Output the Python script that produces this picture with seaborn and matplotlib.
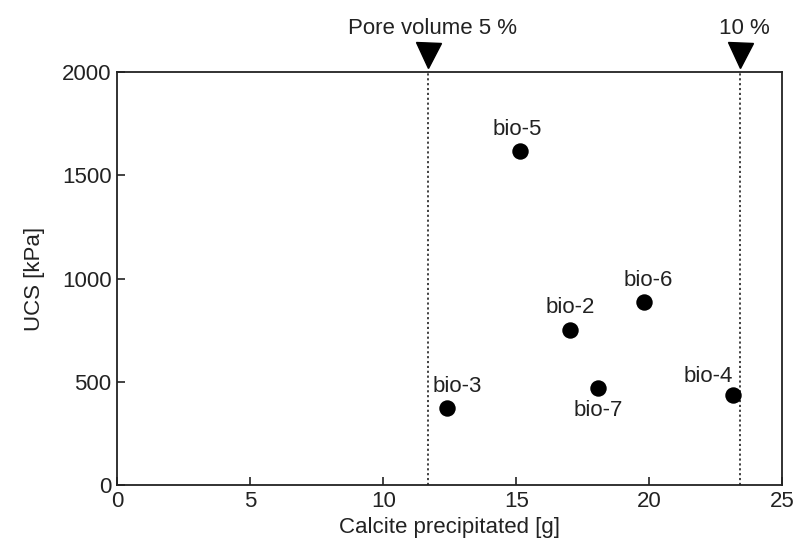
import numpy as np
import pandas as pd
import matplotlib
matplotlib.use("Agg")
import matplotlib.pyplot as plt
import matplotlib.transforms as mtransforms
import seaborn as sns

# Data
samples = ["bio-5", "bio-2", "bio-6", "bio-3", "bio-7", "bio-4"]
calcite_g = [15.14, 17.02, 19.81, 12.38, 18.08, 23.16]
ucs_kpa = [1616, 753, 887, 372, 468, 437]

pore_labels = ["Pore volume 5 %", "10 %"]
pore_calcite = [11.69, 23.41]

# label placement per sample (offset in points, alignment)
label_pos = {
    "bio-5": ((-2, 8), "center", "bottom"),
    "bio-2": ((0, 8), "center", "bottom"),
    "bio-6": ((3, 8), "center", "bottom"),
    "bio-3": ((8, 8), "center", "bottom"),
    "bio-7": ((0, -8), "center", "top"),
    "bio-4": ((-18, 6), "center", "bottom"),
}

df = pd.DataFrame({"sample": samples, "calcite": calcite_g, "ucs": ucs_kpa})

sns.set_style("ticks")
plt.rcParams["font.family"] = ["Liberation Sans", "DejaVu Sans"]
text_col = "#222222"
fs = 16

fig = plt.figure(figsize=(7.97, 5.5), dpi=100)
ax = fig.add_axes([0.147, 0.118, 0.8346, 0.751])

sns.scatterplot(data=df, x="calcite", y="ucs", ax=ax, color="black",
                s=140, edgecolor="black", linewidth=0, zorder=3)

for _, r in df.iterrows():
    off, ha, va = label_pos[r["sample"]]
    ax.annotate(r["sample"], (r["calcite"], r["ucs"]), xytext=off,
                textcoords="offset points", ha=ha, va=va,
                fontsize=fs, color=text_col)

trans = mtransforms.blended_transform_factory(ax.transData, ax.transAxes)
for lab, xv in zip(pore_labels, pore_calcite):
    ax.axvline(xv, color="#333333", linestyle=(0, (1.2, 1.5)), linewidth=1.3, zorder=1)
    ax.plot([xv], [1.042], marker="v", markersize=18, color="black",
            transform=trans, clip_on=False)
    ax.text(xv + 0.15, 1.105, lab, transform=trans, ha="center", va="center",
            fontsize=fs, color=text_col)

ax.set_xlim(0, 25)
ax.set_ylim(0, 2000)
ax.set_xticks([0, 5, 10, 15, 20, 25])
ax.set_yticks([0, 500, 1000, 1500, 2000])
ax.tick_params(direction="in", length=6, width=1.2, labelsize=fs,
               colors=text_col, labelcolor=text_col, pad=4)
for sp in ax.spines.values():
    sp.set_linewidth(1.3)
    sp.set_color("#222222")
ax.set_xlabel("Calcite precipitated [g]", fontsize=fs, color=text_col, labelpad=4)
ax.set_ylabel("UCS [kPa]", fontsize=fs, color=text_col, labelpad=12)

fig.savefig("out.png", dpi=100)
